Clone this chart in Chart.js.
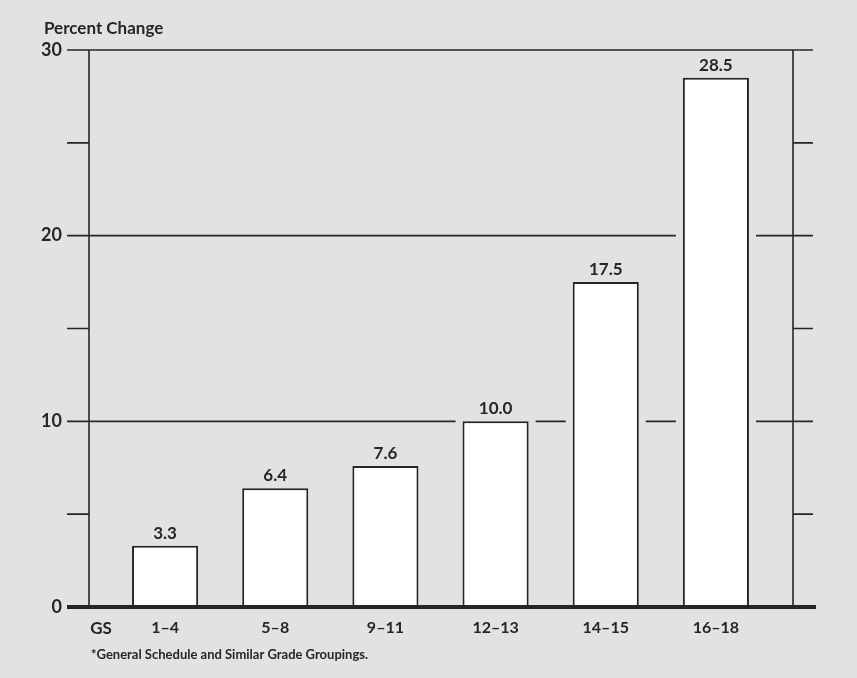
<!DOCTYPE html>
<html>
<head>
<meta charset="utf-8">
<script src="https://cdn.jsdelivr.net/npm/chart.js@4"></script>
<style>
  html, body { margin: 0; padding: 0; background: #e2e2e2; }
  #wrap { width: 857px; height: 678px; position: relative; }
</style>
</head>
<body>
<div id="wrap"><canvas id="c"></canvas></div>
<script>
// data
const grades = ['1–4', '5–8', '9–11', '12–13', '14–15', '16–18'];
const pctChange = [3.3, 6.4, 7.6, 10.0, 17.5, 28.5];
const valueLabels = ['3.3', '6.4', '7.6', '10.0', '17.5', '28.5'];
const gridValues = [10, 20, 30];
const minorValues = [5, 15, 25];

const ink = '#262626';
const FONT = 'Lato, "DejaVu Sans", sans-serif';

// frame, gridlines (with gaps beside the bars), labels
const frame = {
  id: 'frame',
  beforeDatasetsDraw(chart) {
    const { ctx, chartArea: a, scales: { y } } = chart;
    const xl = a.left - 21, xr = a.right + 22;
    const x0 = a.left - 43, x1 = a.right + 42;
    const bars = chart.getDatasetMeta(0).data;
    const top = y.getPixelForValue(30), bottom = y.getPixelForValue(0);
    ctx.save();
    ctx.strokeStyle = ink;
    ctx.lineWidth = 1.6;
    ctx.beginPath();
    ctx.moveTo(xl, top); ctx.lineTo(xl, bottom);
    ctx.moveTo(xr, top); ctx.lineTo(xr, bottom);
    gridValues.forEach(v => {
      const py = y.getPixelForValue(v);
      let start = x0;
      bars.forEach((b, i) => {
        if (pctChange[i] >= v) {
          ctx.moveTo(start, py);
          ctx.lineTo(b.x - b.width / 2 - 7, py);
          start = b.x + b.width / 2 + 7;
        }
      });
      ctx.moveTo(start, py);
      ctx.lineTo(x1, py);
    });
    minorValues.forEach(v => {
      const py = y.getPixelForValue(v);
      ctx.moveTo(x0, py); ctx.lineTo(xl, py);
      ctx.moveTo(xr, py); ctx.lineTo(x1, py);
    });
    ctx.stroke();
    ctx.restore();
  },
  afterDatasetsDraw(chart) {
    const { ctx, chartArea: a, scales: { y } } = chart;
    const bottom = y.getPixelForValue(0);
    ctx.save();
    // heavy zero line
    ctx.strokeStyle = ink;
    ctx.lineWidth = 4;
    ctx.beginPath();
    ctx.moveTo(a.left - 43, bottom);
    ctx.lineTo(a.right + 45, bottom);
    ctx.stroke();

    ctx.fillStyle = ink;
    ctx.font = 'bold 17px ' + FONT;
    ctx.textAlign = 'center';
    ctx.textBaseline = 'alphabetic';
    chart.getDatasetMeta(0).data.forEach((b, i) => {
      ctx.fillText(valueLabels[i], b.x, b.y - 7);
    });

    ctx.fillText('GS', a.left - 9, 634);

    ctx.textAlign = 'left';
    ctx.fillText('Percent Change', 44, 34);

    ctx.font = 'bold 13px ' + FONT;
    ctx.fillText('*General Schedule and Similar Grade Groupings.', 91, 659);
    ctx.restore();
  }
};

new Chart(document.getElementById('c'), {
  type: 'bar',
  data: {
    labels: grades,
    datasets: [{
      data: pctChange,
      backgroundColor: '#ffffff',
      borderColor: ink,
      borderWidth: 2,
      borderSkipped: 'bottom',
      categoryPercentage: 1,
      barPercentage: 0.6
    }]
  },
  options: {
    responsive: true,
    maintainAspectRatio: false,
    animation: false,
    layout: { padding: { top: 50, right: 86, bottom: 0, left: 0 } },
    plugins: {
      legend: { display: false },
      title: { display: false },
      tooltip: { enabled: false }
    },
    scales: {
      x: {
        grid: { display: false },
        border: { display: false },
        ticks: { color: ink, font: { family: FONT, size: 16, weight: 'bold' }, padding: 3 },
        afterFit(s) { s.height = 71; }
      },
      y: {
        min: 0,
        max: 30,
        grid: { display: false },
        border: { display: false },
        ticks: { stepSize: 10, color: ink, font: { family: FONT, size: 18, weight: 'bold' }, padding: 40 },
        afterFit(s) {
          s.width = 110;
          // the big tick padding should not push the plot down
          s.paddingTop = 0;
          s.paddingBottom = 0;
          if (s._margins) { s._margins.top = 0; s._margins.bottom = 0; }
        }
      }
    }
  },
  plugins: [frame]
});
</script>
</body>
</html>
